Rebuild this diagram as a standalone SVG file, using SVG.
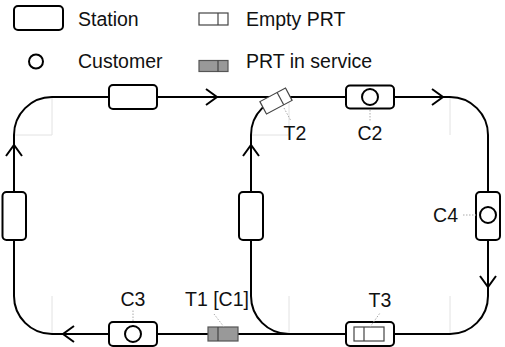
<svg xmlns="http://www.w3.org/2000/svg" width="505" height="347" viewBox="0 0 505 347">
<style>
text{font-family:"Liberation Sans",Arial,sans-serif;font-size:19.5px;fill:#111}
.trk{fill:none;stroke:#000;stroke-width:2}
.guide{fill:none;stroke:#e2e2e2;stroke-width:1}
.arr{fill:none;stroke:#000;stroke-width:2;stroke-linejoin:miter}
.st{fill:#fff;stroke:#000;stroke-width:2}
.cu{fill:#fff;stroke:#000;stroke-width:2}
.ve{fill:#fff;stroke:#444;stroke-width:1.2}
.vg{fill:#999;stroke:#555;stroke-width:1.2}
.div{stroke:#444;stroke-width:1.2}
.ld{fill:none;stroke:#aaa;stroke-width:1;stroke-dasharray:1.5 1.5}
</style>
<rect width="505" height="347" fill="#fff"/>
<g id="legend">
  <rect class="st" x="14" y="6" width="49" height="24" rx="4"/>
  <text x="78" y="26">Station</text>
  <circle class="cu" cx="36" cy="61.5" r="7"/>
  <text x="78" y="68">Customer</text>
  <rect class="ve" x="199" y="13" width="29" height="12"/>
  <line class="div" x1="218" y1="13" x2="218" y2="25"/>
  <text x="246" y="26">Empty PRT</text>
  <rect class="vg" x="199" y="60.5" width="29" height="11"/>
  <line class="div" x1="218" y1="60.5" x2="218" y2="71.5"/>
  <text x="246" y="68">PRT in service</text>
</g>
<g id="guides">
  <path class="guide" d="M52,97V135H14M289,97V135H251M450,97V135M52,296V334M289,296V334M450,296V334"/>
</g>
<g id="connectors">
  <path class="trk" d="M52,97H450A38,38 0 0 1 488,135V296A38,38 0 0 1 450,334H52A38,38 0 0 1 14,296V135A38,38 0 0 1 52,97Z"/>
  <path class="trk" d="M251,296V135A38,38 0 0 1 289,97"/>
  <path class="trk" d="M251,296A38,38 0 0 0 289,334"/>
  <polyline class="arr" points="206,89 217,97 206,105"/>
  <polyline class="arr" points="432,89 443,97 432,105"/>
  <polyline class="arr" points="6,156 14,145 22,156"/>
  <polyline class="arr" points="243,156 251,145 259,156"/>
  <polyline class="arr" points="480,276 488,287 496,276"/>
  <polyline class="arr" points="74,326 63,334 74,342"/>
</g>
<g id="station-top">
  <rect class="st" x="109" y="85" width="48" height="24" rx="4"/>
</g>
<g id="station-left">
  <rect class="st" x="2.5" y="192" width="23.5" height="48" rx="4"/>
</g>
<g id="station-inner">
  <rect class="st" x="239" y="192" width="24" height="48" rx="4"/>
</g>
<g id="C2">
  <rect class="st" x="346" y="85.5" width="48" height="23" rx="4"/>
  <circle class="cu" cx="370" cy="97" r="8"/>
  <line class="ld" x1="370" y1="110" x2="370" y2="122"/>
  <text x="370" y="140" text-anchor="middle">C2</text>
</g>
<g id="T2">
  <g transform="translate(276,101) rotate(-28)">
    <rect class="ve" x="-14.5" y="-7" width="29" height="14"/>
    <line class="div" x1="5" y1="-7" x2="5" y2="7"/>
  </g>
  <line class="ld" x1="284" y1="108" x2="291" y2="121"/>
  <text x="295" y="140" text-anchor="middle">T2</text>
</g>
<g id="C4">
  <rect class="st" x="476" y="192" width="24" height="48" rx="4"/>
  <circle class="cu" cx="488" cy="215" r="8"/>
  <line class="ld" x1="463" y1="215" x2="476" y2="215"/>
  <text x="458" y="222" text-anchor="end">C4</text>
</g>
<g id="C3">
  <rect class="st" x="109" y="322" width="48" height="24" rx="4"/>
  <circle class="cu" cx="133" cy="334" r="8"/>
  <line class="ld" x1="133" y1="321" x2="133" y2="310"/>
  <text x="133" y="306" text-anchor="middle">C3</text>
</g>
<g id="T1">
  <rect class="vg" x="208" y="327" width="30" height="14"/>
  <line class="div" x1="218" y1="327" x2="218" y2="341"/>
  <line class="ld" x1="224" y1="327" x2="214" y2="314"/>
  <text x="217" y="306" text-anchor="middle">T1 [C1]</text>
</g>
<g id="T3">
  <rect class="st" x="346" y="322" width="48" height="24" rx="4"/>
  <rect class="ve" x="354" y="327" width="30" height="14"/>
  <line class="div" x1="364" y1="327" x2="364" y2="341"/>
  <line class="ld" x1="370" y1="327" x2="380" y2="313"/>
  <text x="380" y="307" text-anchor="middle">T3</text>
</g>
</svg>
